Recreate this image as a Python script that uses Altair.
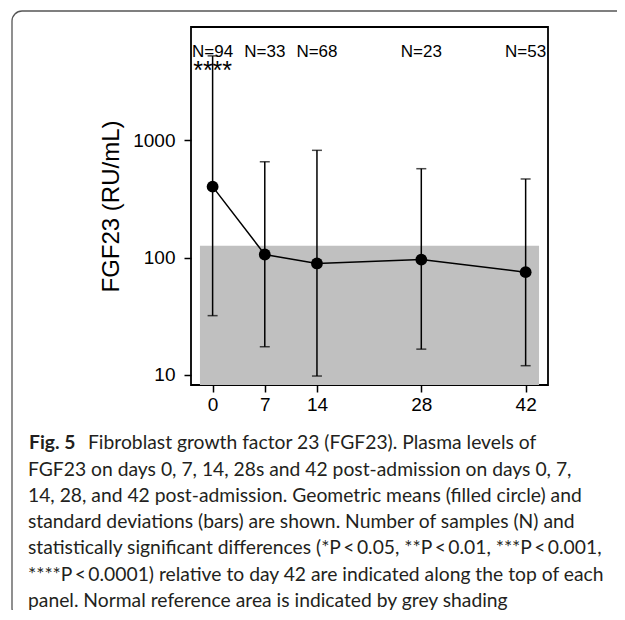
import altair as alt
import pandas as pd

# ---- data ----
days = [0, 7, 14, 28, 42]
gmean = [401, 106, 89, 96, 75]
sd_low = [32, 17.4, 9.8, 16.6, 12.0]
sd_high = [5200, 653, 817, 570, 466]
n_samples = ["N=94", "N=33", "N=68", "N=23", "N=53"]
signif = ["****", "", "", "", ""]

ref_x = [-1.7]
ref_x2 = [43.8]
ref_top = [126]
ref_bottom = [8.22]

x_ticks = [0, 7, 14, 28, 42]
y_ticks = [10, 100, 1000]
y_title = "FGF23 (RU/mL)"

caption_bold = "Fig. 5"
caption_first = "Fibroblast growth factor 23 (FGF23). Plasma levels of"
caption_rest = [
    "FGF23 on days 0, 7, 14, 28s and 42 post-admission on days 0, 7,",
    "14, 28, and 42 post-admission. Geometric means (filled circle) and",
    "standard deviations (bars) are shown. Number of samples (N) and",
    "statistically significant differences (*P\u2009<\u20090.05, **P\u2009<\u20090.01, ***P\u2009<\u20090.001,",
    "****P\u2009<\u20090.0001) relative to day 42 are indicated along the top of each",
    "panel. Normal reference area is indicated by grey shading",
]

df = pd.DataFrame({"day": days, "gm": gmean, "lo": sd_low, "hi": sd_high,
                   "n": n_samples, "sig": signif})
ref = pd.DataFrame({"x": ref_x, "x2": ref_x2, "y": ref_top, "y2": ref_bottom})

W, H = 357, 358
AX_FONT = "Liberation Sans"
CAP_FONT = "Lato"
CAP_SIZE = 19.3

xscale = alt.Scale(domain=[-2.9, 45], nice=False, zero=False)
yscale = alt.Scale(type="log", domain=[8.22, 9160], nice=False, zero=False)

xaxis = alt.Axis(values=x_ticks, title=None, grid=False, domain=False,
                 tickSize=7, tickWidth=1.5, tickColor="black",
                 labelFont=AX_FONT, labelFontSize=19, labelColor="black",
                 labelPadding=3, labelFlush=False)
yaxis = alt.Axis(values=y_ticks, format="d", title=y_title, grid=False, domain=False,
                 tickSize=7, tickWidth=1.5, tickColor="black",
                 labelFont=AX_FONT, labelFontSize=19, labelColor="black",
                 labelPadding=9, titleFont=AX_FONT, titleFontSize=24,
                 titleFontWeight="normal", titleColor="black", titlePadding=9)

shade = alt.Chart(ref).mark_rect(color="#c0c0c0").encode(
    x=alt.X("x:Q", scale=xscale, axis=xaxis),
    x2="x2:Q",
    y=alt.Y("y:Q", scale=yscale, axis=yaxis),
    y2="y2:Q",
)

base = alt.Chart(df)
X = alt.X("day:Q", scale=xscale, axis=xaxis)
line = base.mark_line(color="black", strokeWidth=1.5).encode(
    x=X, y=alt.Y("gm:Q", scale=yscale, axis=yaxis))
bars = base.mark_rule(color="black", strokeWidth=1.5).encode(
    x=X, y=alt.Y("lo:Q", scale=yscale, axis=yaxis), y2="hi:Q")
cap_lo = base.mark_tick(color="black", orient="horizontal", size=10, thickness=1.5).encode(
    x=X, y=alt.Y("lo:Q", scale=yscale, axis=yaxis))
cap_hi = base.mark_tick(color="black", orient="horizontal", size=10, thickness=1.5).encode(
    x=X, y=alt.Y("hi:Q", scale=yscale, axis=yaxis))
pts = base.mark_point(filled=True, color="black", opacity=1, size=140).encode(
    x=X, y=alt.Y("gm:Q", scale=yscale, axis=yaxis))
ntext = base.mark_text(font=AX_FONT, fontSize=17, color="black", align="center",
                       baseline="alphabetic").encode(
    x=X, y=alt.value(30), text="n:N")
stars = base.mark_text(font=AX_FONT, fontSize=25, color="black", align="center",
                       baseline="alphabetic").encode(
    x=X, y=alt.value(52), text="sig:N")

one = alt.Data(values=[{"a": 1}])
frame = alt.Chart(one).mark_rect(fill=None, fillOpacity=0, stroke="#555555",
                                 strokeWidth=1.3, cornerRadius=10, clip=False).encode(
    x=alt.value(12 - 191), x2=alt.value(1200), y=alt.value(11 - 27), y2=alt.value(618 - 27))
cap1b = alt.Chart(one).mark_text(text=caption_bold, font=CAP_FONT, fontWeight="bold",
                                 fontSize=CAP_SIZE, color="#231f20", align="left",
                                 baseline="alphabetic").encode(
    x=alt.value(29 - 191), y=alt.value(449 - 27))
cap1 = alt.Chart(one).mark_text(text=caption_first, font=CAP_FONT,
                                fontSize=CAP_SIZE, color="#231f20", align="left",
                                baseline="alphabetic").encode(
    x=alt.value(88 - 191), y=alt.value(449 - 27))
cap2 = alt.Chart(one).mark_text(text=caption_rest, font=CAP_FONT,
                                fontSize=CAP_SIZE, lineHeight=26.3, color="#231f20", align="left",
                                baseline="alphabetic").encode(
    x=alt.value(28 - 191), y=alt.value(475.5 - 27))

chart = alt.layer(shade, bars, cap_lo, cap_hi, line, pts, ntext, stars,
                  frame, cap1b, cap1, cap2).properties(
    width=W, height=H,
    autosize=alt.AutoSizeParams(type="none"),
    padding={"left": 183, "top": 19, "right": 69, "bottom": 225},
    background="white",
).configure_view(stroke="black", strokeWidth=1.8)

chart.save("out.html", embed_options={"renderer": "svg", "actions": False})
